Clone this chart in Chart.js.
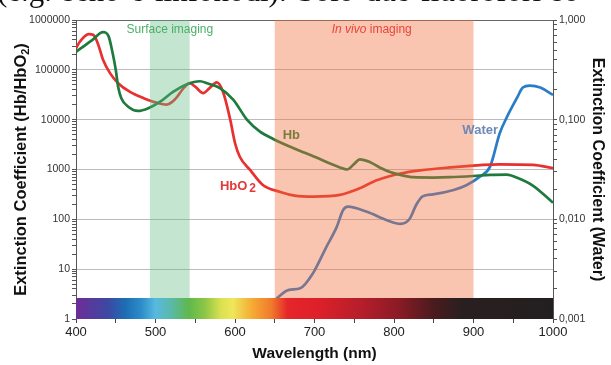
<!DOCTYPE html>
<html><head><meta charset="utf-8">
<script src="https://cdn.jsdelivr.net/npm/chart.js@4.4.1/dist/chart.umd.min.js"></script>
<style>
html,body{margin:0;padding:0;background:#fff;overflow:hidden;}
#wrap{position:relative;width:611px;height:365px;overflow:hidden;}
#cap{position:absolute;left:-3px;top:-27px;font-family:"Liberation Serif",serif;font-size:31px;word-spacing:3px;white-space:nowrap;color:#111;}
canvas{position:absolute;left:0;top:0;}
</style></head><body>
<div id="wrap"><canvas id="c" width="611" height="365"></canvas><div id="cap">(e.g. seno e linfonodi). Solo due fluorofori so</div></div>
<script>
// ---- data ----
const hbNm = [400, 410, 420, 434, 441, 446, 450, 453, 457, 466, 478, 491, 506, 522, 539, 556, 566, 581, 598, 615, 631, 648, 673, 700, 732, 741, 750, 757, 770, 782, 795, 808, 824, 850, 870, 900, 921, 942, 955, 975, 1000];
const hbValues = [2.3e5, 3.0e5, 3.9e5, 5.7e5, 4.7e5, 2.2e5, 1.0e5, 4.6e4, 2.7e4, 1.8e4, 1.5e4, 1.7e4, 2.3e4, 3.6e4, 5.1e4, 5.9e4, 5.3e4, 4.3e4, 2.5e4, 1.0e4, 5.8e3, 4.1e3, 2.7e3, 1.8e3, 1.1e3, 1.0e3, 1.3e3, 1.6e3, 1.4e3, 1.1e3, 890, 780, 700, 690, 700, 740, 780, 790, 680, 470, 215];
const hbo2Nm = [400, 405, 416, 422, 428, 434, 443, 453, 468, 485, 501, 514, 524, 537, 543, 550, 560, 568, 577, 585, 594, 600, 606, 619, 635, 657, 675, 699, 732, 757, 774, 791, 808, 833, 870, 912, 933, 975, 1000];
const hbo2Values = [2.7e5, 3.7e5, 5.2e5, 5.0e5, 3.2e5, 1.6e5, 8.5e4, 5.4e4, 3.6e4, 2.7e4, 2.2e4, 2.0e4, 2.5e4, 4.6e4, 5.4e4, 4.6e4, 3.4e4, 4.3e4, 5.6e4, 3.6e4, 1.0e4, 3.4e3, 1.8e3, 980, 490, 355, 300, 286, 309, 420, 570, 705, 830, 960, 1100, 1240, 1270, 1240, 1060];
const waterNm = [650, 667, 682, 698, 715, 728, 736, 742, 766, 791, 808, 820, 828, 836, 849, 875, 891, 908, 921, 933, 942, 955, 962, 971, 984, 1000];
const waterValues = [0.00155, 0.00195, 0.00203, 0.00287, 0.0053, 0.0084, 0.0124, 0.0134, 0.0119, 0.0098, 0.0090, 0.0102, 0.0140, 0.0170, 0.0178, 0.0197, 0.022, 0.0268, 0.034, 0.073, 0.106, 0.167, 0.21, 0.22, 0.21, 0.177];
const xTickLabels = [400, 500, 600, 700, 800, 900, 1000];
const leftTickLabels = ['1', '10', '100', '1000', '10000', '100000', '1000000'];
const rightTickLabels = ['0,001', '0,010', '0,100', '1,000'];
const surfaceRange = [493, 543];
const invivoRange = [650, 900];
const spectrumTop = 2.64;
const spectrumNm = [400, 440, 462, 482, 500, 520, 542, 562, 582, 597, 622, 646, 666, 705, 760, 805, 850, 885, 1000];
const spectrumColors = ['#6e2d96', '#3d48a3', '#1e6db4', '#2d8cc8', '#58b9e0', '#5ab9a8', '#5fb84c', '#8cc647', '#d9e150', '#efe65c', '#f5aa33', '#f07a2c', '#e5262a', '#dd2029', '#b41e2a', '#8b1b25', '#4a1b1e', '#2a1f20', '#231f20'];

const FONT = '"Liberation Sans", Arial, sans-serif';
const isPow10 = v => Math.abs(Math.log10(v) - Math.round(Math.log10(v))) < 1e-9;
function logTicks(minExp, maxExp) {
  const t = [];
  for (let e = minExp; e < maxExp; e++) for (let k = 1; k <= 9; k++) t.push({value: +(k * Math.pow(10, e)).toPrecision(6)});
  t.push({value: Math.pow(10, maxExp)});
  return t;
}
const pts = (xs, ys) => xs.map((x, i) => ({x, y: ys[i]}));

const decor = {
  id: 'decor',
  afterDatasetsDraw(chart) {
    const {ctx, chartArea: a, scales: {x, y}} = chart;
    ctx.save();
    const barTop = y.getPixelForValue(spectrumTop), yb = y.getPixelForValue(1);
    [[surfaceRange, 'rgba(100,190,135,0.38)'], [invivoRange, 'rgba(240,110,60,0.40)']].forEach(([r, c]) => {
      const x0 = x.getPixelForValue(r[0]), x1 = x.getPixelForValue(r[1]);
      ctx.fillStyle = c; ctx.fillRect(x0, a.top, x1 - x0, barTop - a.top);
    });
    const sx0 = x.getPixelForValue(400), sx1 = x.getPixelForValue(1000);
    const g = ctx.createLinearGradient(sx0, 0, sx1, 0);
    spectrumNm.forEach((nm, i) => g.addColorStop((x.getPixelForValue(nm) - sx0) / (sx1 - sx0), spectrumColors[i]));
    ctx.fillStyle = g; ctx.fillRect(sx0, barTop, sx1 - sx0, yb - barTop);
    ctx.textBaseline = 'middle';
    ctx.textAlign = 'center';
    ctx.font = '12px ' + FONT; ctx.fillStyle = '#4dae66';
    ctx.fillText('Surface imaging', x.getPixelForValue(518), y.getPixelForValue(6.3e5));
    const ivx = x.getPixelForValue(772), ivy = y.getPixelForValue(6.3e5);
    ctx.fillStyle = '#e8463a';
    ctx.font = 'italic 12px ' + FONT; const w1 = ctx.measureText('In vivo').width;
    ctx.font = '12px ' + FONT; const w2 = ctx.measureText(' imaging').width;
    ctx.textAlign = 'left';
    ctx.font = 'italic 12px ' + FONT; ctx.fillText('In vivo', ivx - (w1 + w2) / 2, ivy);
    ctx.font = '12px ' + FONT; ctx.fillText(' imaging', ivx - (w1 + w2) / 2 + w1, ivy);
    ctx.font = 'bold 13px ' + FONT; ctx.fillStyle = '#7b7b3c';
    ctx.fillText('Hb', x.getPixelForValue(660), y.getPixelForValue(4.9e3));
    ctx.fillStyle = '#e2393a';
    const hx = x.getPixelForValue(581), hy = y.getPixelForValue(450);
    ctx.fillText('HbO', hx, hy);
    const hw = ctx.measureText('HbO').width;
    ctx.font = 'bold 12px ' + FONT; ctx.fillText('2', hx + hw + 2, hy + 2);
    ctx.font = 'bold 13px ' + FONT; ctx.fillStyle = '#6f88b6';
    ctx.fillText('Water', x.getPixelForValue(886), y.getPixelForValue(6.0e3));
    ctx.restore();
  },
  afterDraw(chart) {
    const {ctx, chartArea: a} = chart;
    ctx.save();
    ctx.fillStyle = '#111';
    ctx.textBaseline = 'middle';
    const cy = (a.top + a.bottom) / 2;
    ctx.save();
    ctx.translate(21, cy); ctx.rotate(-Math.PI / 2);
    const t1 = 'Extinction Coefficient (Hb/HbO', t3 = ')';
    ctx.font = 'bold 11px ' + FONT; const w2 = ctx.measureText('2').width;
    ctx.font = 'bold 16.5px ' + FONT;
    const w1 = ctx.measureText(t1).width, w3 = ctx.measureText(t3).width;
    const sx = -(w1 + w2 + w3) / 2;
    ctx.textAlign = 'left';
    ctx.fillText(t1, sx, 0);
    ctx.font = 'bold 11px ' + FONT; ctx.fillText('2', sx + w1, 5);
    ctx.font = 'bold 16.5px ' + FONT; ctx.fillText(t3, sx + w1 + w2, 0);
    ctx.restore();
    ctx.save();
    ctx.translate(597, cy); ctx.rotate(Math.PI / 2);
    ctx.font = 'bold 16px ' + FONT; ctx.textAlign = 'center';
    ctx.fillText('Extinction Coefficient (Water)', 0, 0);
    ctx.restore();
    ctx.font = 'bold 15.5px ' + FONT; ctx.textAlign = 'center';
    ctx.fillText('Wavelength (nm)', (a.left + a.right) / 2, 354);
    ctx.restore();
  }
};

const lineCommon = {borderWidth: 2.7, pointRadius: 0, fill: false, cubicInterpolationMode: 'monotone'};
new Chart(document.getElementById('c'), {
  type: 'line',
  data: {
    datasets: [
      Object.assign({label: 'Hb', data: pts(hbNm, hbValues), borderColor: '#1f7a3d', yAxisID: 'y'}, lineCommon),
      Object.assign({label: 'HbO2', data: pts(hbo2Nm, hbo2Values), borderColor: '#e8302e', yAxisID: 'y'}, lineCommon),
      Object.assign({label: 'Water', data: pts(waterNm, waterValues), borderColor: '#2b7cc6', yAxisID: 'y2'}, lineCommon)
    ]
  },
  options: {
    responsive: false, animation: false, devicePixelRatio: 1,
    layout: {padding: {top: 20, left: 0, right: 0, bottom: 0}},
    plugins: {legend: {display: false}, tooltip: {enabled: false}},
    scales: {
      x: {
        type: 'linear', min: 400, max: 1000, position: 'bottom',
        ticks: {stepSize: 50, autoSkip: false, maxRotation: 0, padding: 2, color: '#222', font: {family: FONT, size: 13},
          callback: v => xTickLabels.includes(v) ? String(v) : ''},
        grid: {drawOnChartArea: false, drawTicks: true, tickLength: 4, tickColor: '#444'},
        border: {display: false},
        afterFit: s => { s.height = 46; }
      },
      y: {
        type: 'logarithmic', min: 1, max: 1e6, position: 'left',
        afterBuildTicks: s => { s.ticks = logTicks(0, 6); },
        ticks: {autoSkip: false, padding: 2, color: '#333', font: {family: FONT, size: 10.5},
          callback: v => isPow10(v) ? leftTickLabels[Math.round(Math.log10(v))] : ''},
        grid: {
          color: c => { const v = c.tick && c.tick.value; if (!v || !isPow10(v) || v === 1) return 'rgba(0,0,0,0)'; return v === 1e6 ? '#666' : '#bcbcbc'; },
          lineWidth: 1, drawTicks: true, tickLength: 4, tickColor: '#555'
        },
        border: {display: true, color: '#555', width: 1},
        afterFit: s => { s.width = 76; }
      },
      y2: {
        type: 'logarithmic', min: 0.001, max: 1, position: 'right',
        afterBuildTicks: s => { s.ticks = logTicks(-3, 0); },
        ticks: {autoSkip: false, padding: 2, color: '#333', font: {family: FONT, size: 10.5},
          callback: v => isPow10(v) ? rightTickLabels[Math.round(Math.log10(v)) + 3] : ''},
        grid: {drawOnChartArea: false, drawTicks: true, tickLength: 4, tickColor: '#555'},
        border: {display: true, color: '#555', width: 1},
        afterFit: s => { s.width = 58; }
      }
    }
  },
  plugins: [decor]
});
</script>
</body></html>
